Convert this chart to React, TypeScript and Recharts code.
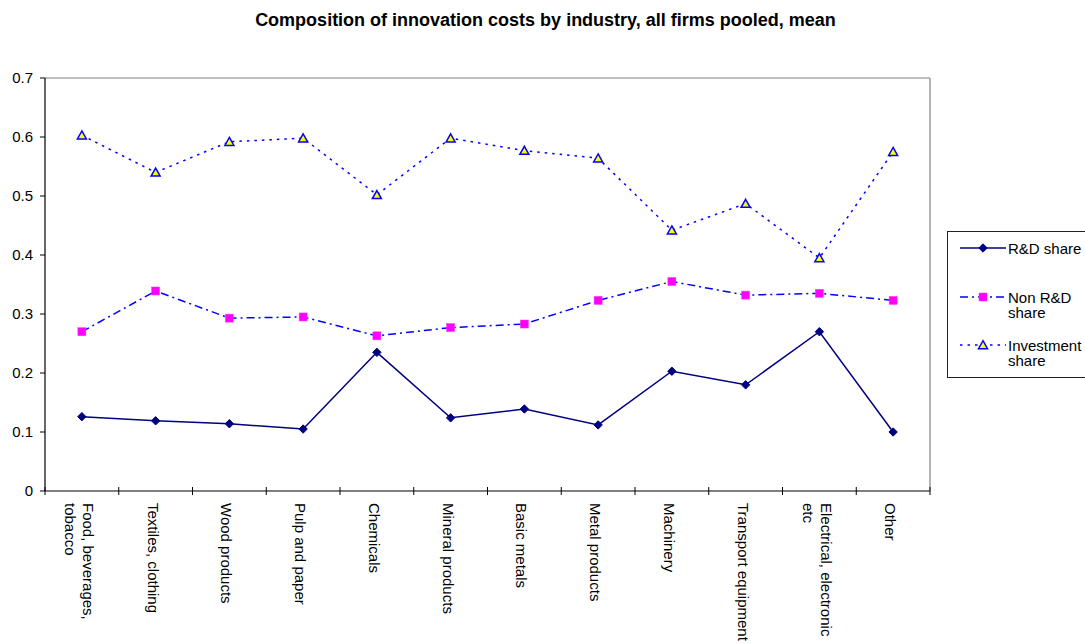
import React from 'react';
import { LineChart, Line, XAxis, YAxis, ReferenceLine } from 'recharts';

const categories = [
  'Food, beverages,\ntobacco',
  'Textiles, clothing',
  'Wood products',
  'Pulp and paper',
  'Chemicals',
  'Mineral products',
  'Basic metals',
  'Metal products',
  'Machinery',
  'Transport equipment',
  'Electrical, electronic\netc',
  'Other',
];

const rdShare = [0.126, 0.119, 0.114, 0.105, 0.235, 0.124, 0.139, 0.112, 0.203, 0.180, 0.270, 0.100];
const nonRdShare = [0.270, 0.339, 0.293, 0.295, 0.263, 0.277, 0.283, 0.323, 0.355, 0.332, 0.335, 0.323];
const investmentShare = [0.603, 0.540, 0.592, 0.598, 0.502, 0.598, 0.577, 0.564, 0.442, 0.487, 0.395, 0.575];

const yTicks = [0, 0.1, 0.2, 0.3, 0.4, 0.5, 0.6, 0.7];

const W = 1085;
const H = 643;
const PLOT_LEFT = 45;
const PLOT_RIGHT = 930;
const PLOT_TOP = 78;
const PLOT_BOTTOM = 491;
const BAND = (PLOT_RIGHT - PLOT_LEFT) / categories.length;
const FONT = '"Liberation Sans", Arial, sans-serif';

const data = categories.map((name, i) => ({
  name,
  rd: rdShare[i],
  nonRd: nonRdShare[i],
  inv: investmentShare[i],
}));

// markers
const Diamond = ({ cx, cy, r = 4.2 }: any) => (
  <polygon
    points={`${cx},${cy - r} ${cx + r},${cy} ${cx},${cy + r} ${cx - r},${cy}`}
    fill="#000080"
    stroke="#000080"
    strokeWidth={1}
  />
);
const Square = ({ cx, cy, s = 8 }: any) => (
  <rect x={cx - s / 2} y={cy - s / 2} width={s} height={s} fill="#FF00FF" stroke="#FF33FF" strokeWidth={0.5} />
);
const Triangle = ({ cx, cy }: any) => (
  <polygon
    points={`${cx},${cy - 4.3} ${cx + 4.5},${cy + 3.7} ${cx - 4.5},${cy + 3.7}`}
    fill="#FFFF00"
    stroke="#0000FF"
    strokeWidth={1.5}
  />
);

const series = [
  { key: 'rd', label: ['R&D share'], stroke: '#000080', dash: undefined, Marker: Diamond, y: 248 },
  { key: 'nonRd', label: ['Non R&D', 'share'], stroke: '#0000FF', dash: '8 4 2 4', Marker: Square, y: 297 },
  { key: 'inv', label: ['Investment', 'share'], stroke: '#0000FF', dash: '2.5 5', Marker: Triangle, y: 345 },
];

const CategoryTick = (props: any) => {
  const { x, y, payload, index } = props;
  const lines = String(payload.value).split('\n');
  const half = BAND / 2;
  const baselines = lines.length === 1 ? [x - 8] : [x + 1.5, x - 16.5];
  return (
    <g>
      <line x1={x - half} x2={x - half} y1={y - 4} y2={y + 4} stroke="#000" />
      {index === categories.length - 1 && (
        <line x1={x + half} x2={x + half} y1={y - 4} y2={y + 4} stroke="#000" />
      )}
      {lines.map((ln, i) => (
        <text
          key={i}
          transform={`translate(${baselines[i]},${y + 12}) rotate(90)`}
          fontSize={15}
          fontFamily={FONT}
          fill="#000"
          textAnchor="start"
        >
          {ln}
        </text>
      ))}
    </g>
  );
};

const LegendBox = () => (
  <div
    style={{
      position: 'absolute',
      left: 947,
      top: 231,
      width: 150,
      height: 145,
      border: '1px solid #222',
      background: '#fff',
      fontFamily: FONT,
      fontSize: 15,
      color: '#000',
    }}
  >
    {series.map((s) => {
      const M = s.Marker;
      return (
        <div key={s.key} style={{ position: 'absolute', left: 0, top: s.y - 232 - 8, width: 150 }}>
          <svg width={48} height={16} style={{ position: 'absolute', left: 11, top: 0 }}>
            <line x1={1} x2={47} y1={8} y2={8} stroke={s.stroke} strokeWidth={1.5} strokeDasharray={s.dash} />
            <M cx={24} cy={8} />
          </svg>
          <div style={{ position: 'absolute', left: 60, top: 0.5, lineHeight: '15px', whiteSpace: 'nowrap' }}>
            {s.label.map((t, i) => (
              <div key={i}>{t}</div>
            ))}
          </div>
        </div>
      );
    })}
  </div>
);

export default function App() {
  return (
    <div style={{ position: 'fixed', left: 0, top: 0, width: W, height: H, background: '#fff', overflow: 'hidden' }}>
      <div
        style={{
          position: 'absolute',
          left: 0,
          top: 10,
          width: W,
          paddingLeft: 6,
          boxSizing: 'border-box',
          textAlign: 'center',
          fontFamily: FONT,
          fontWeight: 'bold',
          fontSize: 18,
          lineHeight: '20px',
          color: '#000',
        }}
      >
        Composition of innovation costs by industry, all firms pooled, mean
      </div>
      <div style={{ position: 'absolute', left: 0, top: 0 }}>
        <LineChart
          width={W}
          height={H}
          data={data}
          margin={{ top: PLOT_TOP, right: W - PLOT_RIGHT - 1, bottom: 0, left: 0 }}
        >
          <XAxis
            dataKey="name"
            interval={0}
            height={H - PLOT_BOTTOM}
            padding={{ left: BAND / 2, right: BAND / 2 }}
            tickLine={false}
            tickSize={0}
            tickMargin={0}
            axisLine={{ stroke: '#000', strokeWidth: 1.2 }}
            tick={<CategoryTick />}
          />
          <YAxis
            width={PLOT_LEFT}
            domain={[0, 0.7]}
            ticks={yTicks}
            interval={0}
            tickFormatter={(v: number) => String(v)}
            axisLine={{ stroke: '#000', strokeWidth: 1.2 }}
            tickLine={{ stroke: '#000' }}
            tickSize={5}
            tickMargin={7}
            tick={{ fill: '#000', fontSize: 15, fontFamily: FONT }}
          />
          <YAxis
            yAxisId="frame"
            orientation="right"
            width={1}
            domain={[0, 0.7]}
            tick={false}
            tickLine={false}
            axisLine={{ stroke: '#808080', strokeWidth: 1.2 }}
          />
          <ReferenceLine y={0.7} stroke="#808080" strokeWidth={1.2} />
          <Line
            dataKey="inv"
            stroke="#0000FF"
            strokeWidth={1.5}
            strokeDasharray="2.5 5"
            isAnimationActive={false}
            dot={(p: any) => <Triangle key={`inv-${p.index}`} cx={p.cx} cy={p.cy} />}
          />
          <Line
            dataKey="nonRd"
            stroke="#0000FF"
            strokeWidth={1.5}
            strokeDasharray="8 4 2 4"
            isAnimationActive={false}
            dot={(p: any) => <Square key={`nr-${p.index}`} cx={p.cx} cy={p.cy} />}
          />
          <Line
            dataKey="rd"
            stroke="#000080"
            strokeWidth={1.5}
            isAnimationActive={false}
            dot={(p: any) => <Diamond key={`rd-${p.index}`} cx={p.cx} cy={p.cy} />}
          />
        </LineChart>
      </div>
      <LegendBox />
    </div>
  );
}
